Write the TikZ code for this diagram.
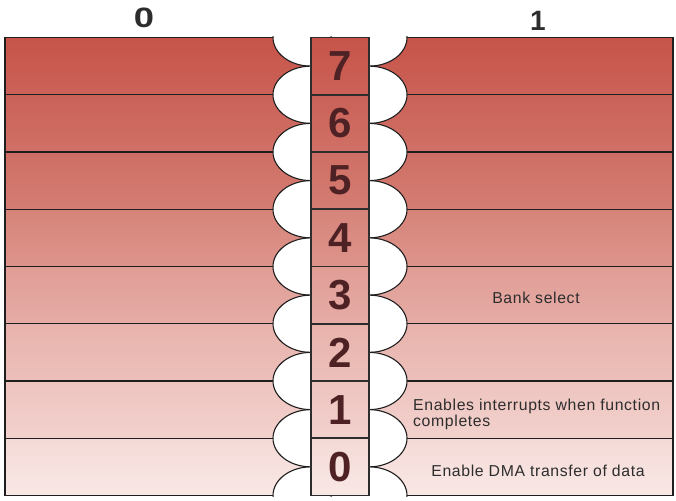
\documentclass[tikz,border=0pt]{standalone}
\usepackage{fontspec}
\setmainfont{Liberation Sans}
\newfontfamily\spaced[LetterSpace=4]{Liberation Sans}
\definecolor{r7t}{RGB}{198,84,74}\definecolor{r7b}{RGB}{204,98,88}
\definecolor{r6t}{RGB}{202,98,88}\definecolor{r6b}{RGB}{208,112,102}
\definecolor{r5t}{RGB}{206,110,100}\definecolor{r5b}{RGB}{213,125,115}
\definecolor{r4t}{RGB}{214,132,122}\definecolor{r4b}{RGB}{222,148,139}
\definecolor{r3t}{RGB}{224,157,150}\definecolor{r3b}{RGB}{230,172,166}
\definecolor{r2t}{RGB}{232,178,172}\definecolor{r2b}{RGB}{237,192,187}
\definecolor{r1t}{RGB}{238,196,191}\definecolor{r1b}{RGB}{242,209,205}
\definecolor{r0t}{RGB}{244,218,214}\definecolor{r0b}{RGB}{249,232,230}
\definecolor{ink}{RGB}{45,45,45}
\definecolor{edge}{RGB}{30,30,30}
\definecolor{digitc}{RGB}{78,34,36}
\begin{document}
\begin{tikzpicture}[x=1pt,y=-1pt,
  rowline/.style={draw=edge,line width=1.1pt},
  lens/.style={fill=white,draw=edge,line width=1.1pt},
  digitbox/.style={draw=ink,line width=1.8pt,minimum width=58pt,minimum height=57.25pt,inner sep=0pt,
    text=digitc,font=\fontsize{42}{42}\selectfont\bfseries},
  header/.style={text=ink,font=\fontsize{28}{28}\selectfont\bfseries,inner sep=0pt},
  note/.style={text=ink,font=\fontsize{15.8}{16}\selectfont\spaced,inner sep=0pt}]
\useasboundingbox (0,0) rectangle (676,500);
\def\T{37.5}\def\H{57.25}
\pgfmathsetmacro\B{\T+8*\H}
% row fills
\foreach \k/\c in {0/7,1/6,2/5,3/4,4/3,5/2,6/1,7/0}{
  \shade[top color=r\c t,bottom color=r\c b] (5,{\T+\k*\H}) rectangle (311,{\T+(\k+1)*\H});
  \shade[top color=r\c t,bottom color=r\c b] (369,{\T+\k*\H}) rectangle (673,{\T+(\k+1)*\H});
}
% row lines
\foreach \k in {1,...,7}{
  \draw[rowline] (5,{\T+\k*\H}) -- (311,{\T+\k*\H});
  \draw[rowline] (369,{\T+\k*\H}) -- (673,{\T+\k*\H});
}
\draw[rowline] (311,\T) -- (5,\T) -- (5,\B) -- (311,\B);
\draw[rowline] (369,\T) -- (673,\T) -- (673,\B) -- (369,\B);
% white lens cut-outs
\begin{scope}
  \clip (0,{\T-0.6}) rectangle (676,{\B+0.6});
  \foreach \k in {0,...,8}{
    \draw[lens] (311,{\T+\k*\H}) ellipse [x radius=38pt,y radius=28.625pt];
    \draw[lens] (369,{\T+\k*\H}) ellipse [x radius=38pt,y radius=28.625pt];
  }
\end{scope}
% bit boxes
\foreach \k/\c in {0/7,1/6,2/5,3/4,4/3,5/2,6/1,7/0}{
  \node[digitbox,top color=r\c t,bottom color=r\c b] (b\c) at (340,{\T+(\k+0.5)*\H}) {\c};
}
% headers
\node[header] (h0) at (144,18) {\scalebox{1.3}[1]{0}};
\node[header] (h1) at (538,21) {1};
% notes
\node[note] (bank) at (536,298) {Bank select};
\node[note,anchor=west,align=left] (intr) at (413,414) {Enables interrupts when function\\completes};
\node[note] (dma) at (538,471) {Enable DMA transfer of data};
\end{tikzpicture}
\end{document}
